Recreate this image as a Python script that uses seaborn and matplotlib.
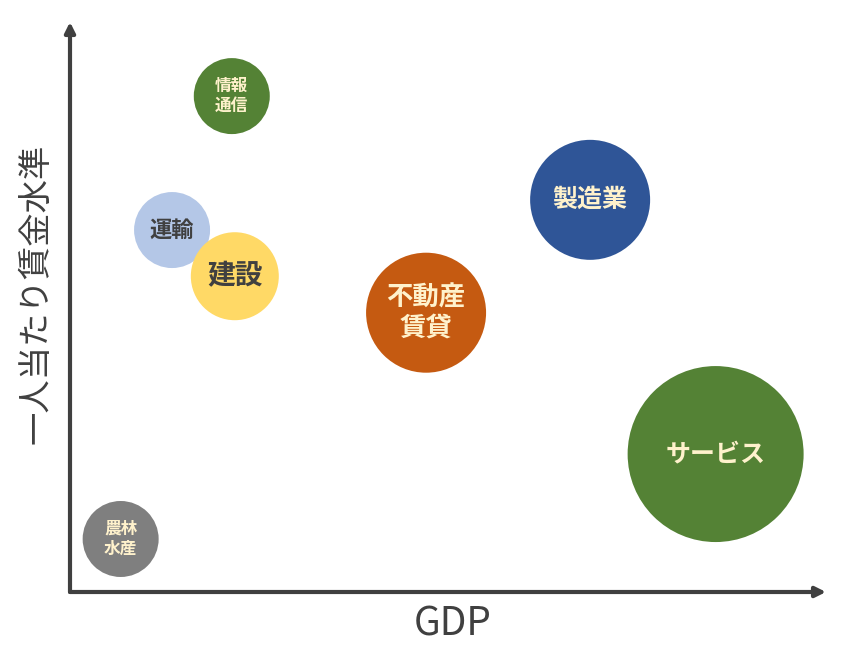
#!/usr/bin/env python3
"""Bubble chart: industries by GDP vs. wage level per person."""

import matplotlib
matplotlib.use("Agg")
import matplotlib.pyplot as plt
import pandas as pd
import seaborn as sns

# industry data (arbitrary units)
industries = ["情報通信", "運輸", "建設", "不動産賃貸", "製造業", "サービス", "農林水産"]
labels = ["情報\n通信", "運輸", "建設", "不動産\n賃貸", "製造業", "サービス", "農林\n水産"]
gdp = [21.4, 13.5, 21.8, 47.1, 68.8, 85.4, 6.7]
wage = [87.0, 63.5, 55.4, 49.0, 68.8, 24.2, 9.3]
bubble_area = [2994, 2994, 4014, 7465, 7465, 16056, 2994]
colors = ["#548235", "#B4C7E7", "#FFD966", "#C55A11", "#2F5597", "#548235", "#7F7F7F"]
text_colors = ["#FFF2CC", "#404040", "#404040", "#FFF2CC", "#FFF2CC", "#FFF2CC", "#FFF2CC"]
font_sizes = [12, 16, 20, 19, 18, 18, 12]

AXIS_COLOR = "#404040"


def main():
    df = pd.DataFrame({"industry": industries, "gdp": gdp, "wage": wage})

    sns.set_style("white")
    plt.rcParams["font.family"] = ["Noto Sans CJK JP", "DejaVu Sans"]

    fig = plt.figure(figsize=(8.51, 6.48), dpi=100)
    ax = fig.add_axes([70 / 851, 56 / 648, 756 / 851, 570 / 648])

    sns.scatterplot(
        data=df, x="gdp", y="wage",
        hue="industry", palette=dict(zip(industries, colors)),
        size="industry", sizes=dict(zip(industries, bubble_area)),
        linewidth=0, alpha=1, legend=False, ax=ax, zorder=3,
    )

    for x, y, lab, tc, fs in zip(gdp, wage, labels, text_colors, font_sizes):
        ax.text(x, y, lab, ha="center", va="center", color=tc, fontsize=fs,
                fontweight="bold", linespacing=1.15, zorder=4)

    ax.set_xlim(0, 100)
    ax.set_ylim(0, 100)
    ax.set_xticks([])
    ax.set_yticks([])
    ax.set_xlabel("")
    ax.set_ylabel("")
    for sp in ax.spines.values():
        sp.set_visible(False)

    # arrow axes
    arrow = dict(arrowstyle="-|>,head_length=0.6,head_width=0.3", lw=3,
                 color=AXIS_COLOR, shrinkA=0, shrinkB=0)
    ax.annotate("", xy=(1.0, 0), xytext=(0, 0), xycoords="axes fraction",
                arrowprops=arrow, annotation_clip=False)
    ax.annotate("", xy=(0, 1.0), xytext=(0, 0), xycoords="axes fraction",
                arrowprops=arrow, annotation_clip=False)

    fig.text(453 / 851, 1 - 625 / 648, "GDP", ha="center", va="center",
             fontsize=28, color=AXIS_COLOR)
    fig.text(36 / 851, 1 - 294 / 648, "一人当たり賃金水準", ha="center", va="center",
             rotation=90, fontsize=24, color=AXIS_COLOR)

    fig.savefig("out.png", dpi=100)


if __name__ == "__main__":
    main()
